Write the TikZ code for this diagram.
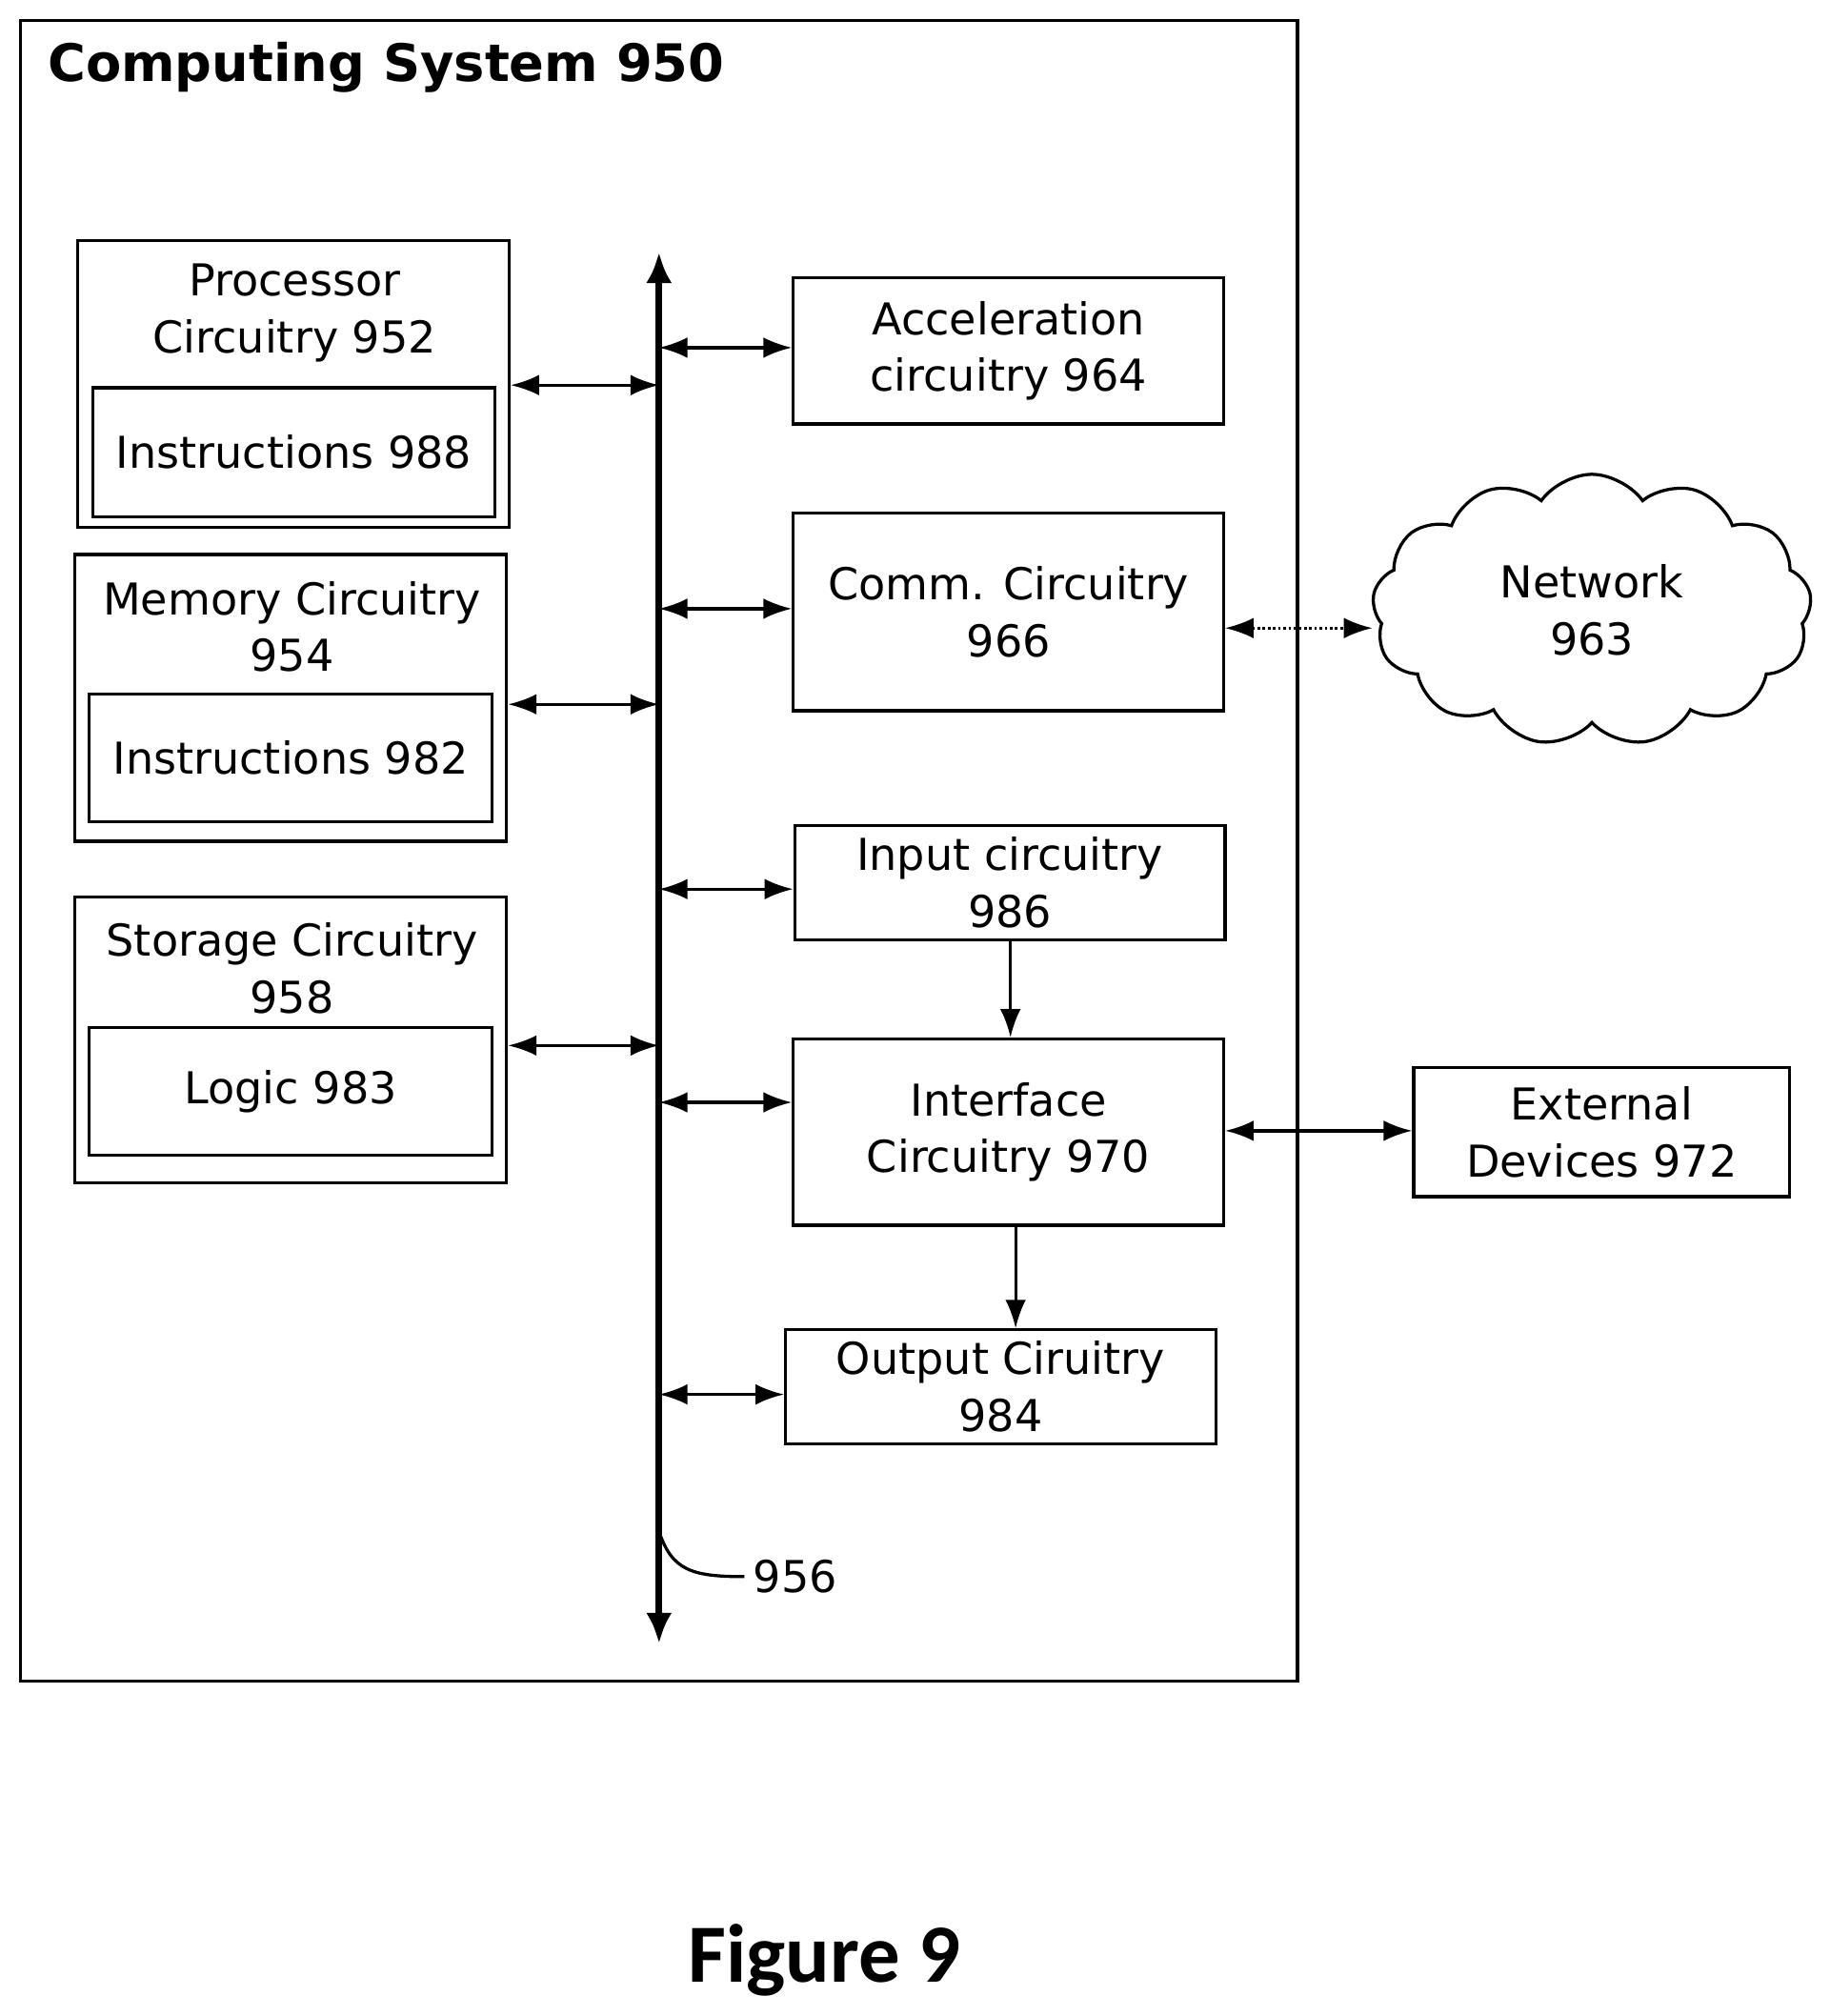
\documentclass[tikz,border=0pt]{standalone}
\usepackage{fontspec}
\setmainfont{DejaVu Sans}
\newfontfamily\figfont{Carlito}
\usetikzlibrary{arrows.meta,shapes.symbols}
\tikzset{
  blk/.style={draw,line width=1.2pt,align=center,inner sep=0pt,font=\fontsize{17}{22}\selectfont},
  link/.style={line width=1.2pt,{Latex[length=11pt,width=8pt]}-{Latex[length=11pt,width=8pt]}},
  flow/.style={line width=1.2pt,-{Latex[length=11pt,width=8pt]}}
}
\begin{document}
\begin{tikzpicture}[x=0.5pt,y=0.5pt,yscale=-1]
\useasboundingbox (0,0) rectangle (1416,1560);

% frame
\draw[line width=1.3pt] (16,16) rectangle (1004,1301);
\node[anchor=west,font=\fontsize{20}{24}\selectfont\bfseries] (title) at (30,52) {Computing System 950};

% bus
\coordinate (bustop) at (510,195);
\coordinate (busbot) at (510,1272);
\draw[line width=2.5pt,{Latex[length=12pt,width=10pt]}-{Latex[length=12pt,width=10pt]}] (bustop) -- (busbot);

% left blocks
\node[blk,minimum width=167,minimum height=111] (proc) at (227,297) {};
\node[anchor=center,font=\fontsize{17}{22}\selectfont,align=center] (proct) at (228,242) {Processor\\Circuitry 952};
\node[blk,minimum width=155.5,minimum height=50] (ins988) at (227.5,350) {Instructions 988};

\node[blk,minimum width=167,minimum height=111] (mem) at (225,540) {};
\node[anchor=center,font=\fontsize{17}{22}\selectfont,align=center] (memt) at (226,485) {Memory Circuitry\\954};
\node[blk,minimum width=156,minimum height=49.5] (ins982) at (225,586.5) {Instructions 982};

\node[blk,minimum width=167,minimum height=110.5] (stor) at (225,804.5) {};
\node[anchor=center,font=\fontsize{17}{22}\selectfont,align=center] (stort) at (226,749) {Storage Circuitry\\958};
\node[blk,minimum width=156,minimum height=49.5] (logic) at (225,844.5) {Logic 983};

% right blocks
\node[blk,minimum width=166.5,minimum height=56.5] (acc) at (780.5,271.5) {Acceleration\\circuitry 964};
\node[blk,minimum width=166.5,minimum height=76.5] (comm) at (780.5,473.5) {Comm. Circuitry\\966};
\node[blk,minimum width=166.5,minimum height=44] (inp) at (781.5,683) {Input circuitry\\986};
\node[blk,minimum width=166.5,minimum height=72] (intf) at (780.5,876) {Interface\\Circuitry 970};
\node[blk,minimum width=166.5,minimum height=44] (outp) at (774.5,1073) {Output Ciruitry\\984};
\node[blk,minimum width=145.5,minimum height=50] (ext) at (1239.5,876) {External\\Devices 972};
\node[cloud,draw,line width=1.2pt,cloud puffs=13,cloud puff arc=110,aspect=1.6,minimum width=170,minimum height=105,align=center,font=\fontsize{17}{22}\selectfont] (net) at (1232,472) {Network\\963};

% bus links
\draw[link] (proc.east |- 0,298) -- (510,298);
\draw[link] (mem.east |- 0,545) -- (510,545);
\draw[link] (stor.east |- 0,809) -- (510,809);
\draw[link] (510,269) -- (acc.west |- 0,269);
\draw[link] (510,471) -- (comm.west |- 0,471);
\draw[link] (510,688) -- (inp.west |- 0,688);
\draw[link] (510,853) -- (intf.west |- 0,853);
\draw[link] (510,1079) -- (outp.west |- 0,1079);

% other links
\draw[flow] (inp.south -| 782,0) -- (intf.north -| 782,0);
\draw[flow] (intf.south -| 786,0) -- (outp.north -| 786,0);
\draw[link] (intf.east |- 0,875) -- (ext.west |- 0,875);
\draw[line width=1pt,densely dotted,{Latex[length=11pt,width=8pt]}-{Latex[length=11pt,width=8pt]}] (comm.east |- 0,486) -- (1062,486);

% bus label
\node[anchor=west,font=\fontsize{17}{22}\selectfont] (lbl) at (576,1220) {956};
\draw[line width=1.2pt] (510,1185) .. controls (520,1215) and (535,1220) .. (lbl.west);

\node[font=\figfont\fontsize{32}{38}\selectfont\bfseries] (fig) at (638,1517) {Figure 9};
\end{tikzpicture}
\end{document}
